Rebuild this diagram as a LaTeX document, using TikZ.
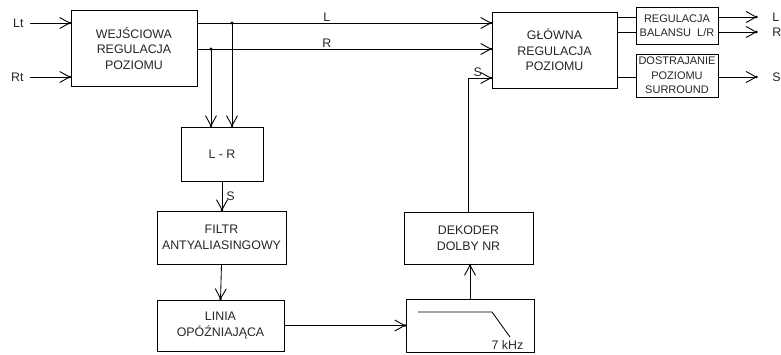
\documentclass[tikz,border=0pt]{standalone}
\usepackage{fontspec}
\setmainfont{Liberation Sans}
\usetikzlibrary{arrows.meta}
\newcommand{\textcol}{black!85!white}
\newcommand{\bigfont}{\fontsize{12.4}{15.5}\selectfont}
\newcommand{\smallfont}{\fontsize{11}{14.5}\selectfont}

\begin{document}
\begin{tikzpicture}[x=1pt, y=-1pt, line width=0.85pt,
    blok/.style={draw, align=center, inner sep=0pt, text=\textcol, font=\bigfont},
    sig/.style={-{Circle[length=2.4pt,sep=-12pt]Straight Barb[length=10pt,width=11pt,line width=0.9pt]}},
    lbl/.style={inner sep=1pt, text=\textcol, font=\bigfont}]
    \useasboundingbox (0,0) rectangle (781,354);

    % blocks
    \node[blok, minimum width=126pt, minimum height=76pt] (wej) at (134,48) {WEJŚCIOWA\\REGULACJA\\POZIOMU};
    \node[blok, minimum width=125pt, minimum height=76pt] (glo) at (554.5,50) {GŁÓWNA\\REGULACJA\\POZIOMU};
    \node[blok, minimum width=82pt, minimum height=37pt, font=\smallfont] (bal) at (677,25.5) {REGULACJA\\BALANSU\ \ L/R};
    \node[blok, minimum width=82pt, minimum height=43pt, font=\smallfont] (sur) at (677,75.5) {DOSTRAJANIE\\POZIOMU\\SURROUND};
    \node[blok, minimum width=82pt, minimum height=54pt] (lr) at (222,154) {L - R};
    \node[blok, minimum width=129pt, minimum height=53pt] (fil) at (221.5,237.5) {FILTR\\ANTYALIASINGOWY};
    \node[blok, minimum width=127pt, minimum height=51pt] (lin) at (220.5,325.5) {LINIA\\OPÓŹNIAJĄCA};
    \node[blok, minimum width=129pt, minimum height=52pt] (dek) at (468.5,238) {DEKODER\\DOLBY NR};
    \node[blok, minimum width=128pt, minimum height=53pt] (lp) at (470,325.5) {};

    % low-pass sketch
    \draw (418,312) -- (492,312) -- (510,337);
    \node[lbl] (khz) at (507.5,345) {7 kHz};

    % inputs
    \node[lbl, anchor=east] (lt) at (25,23) {Lt};
    \node[lbl, anchor=east] (rt) at (25,77) {Rt};
    \draw[sig] ([xshift=5pt]lt.east) -- (lt -| wej.west);
    \draw[sig] ([xshift=5pt]rt.east) -- (rt -| wej.west);

    % L and R buses
    \coordinate (jl) at (232,23);
    \coordinate (jr) at (211,49);
    \draw[sig] (wej.east |- jl) -- node[lbl, above, pos=0.44] {L} (glo.west |- jl);
    \draw[sig] (wej.east |- jr) -- node[lbl, above, pos=0.44] {R} (glo.west |- jr);
    \fill (jl) circle (1.6pt);
    \fill (jr) circle (1.6pt);
    \draw[sig] (jl) -- (jl |- lr.north);
    \draw[sig] (jr) -- (jr |- lr.north);

    % surround path
    \draw[sig] (lr.south) -- node[lbl, right, xshift=3pt] {S} (lr.south |- fil.north);
    \draw[sig] (fil.south) -- (lin.north);
    \draw[sig] (lin.east) -- (lp.west);
    \draw[sig] (lp.north) -- (lp.north |- dek.south);
    \draw[sig] (dek.north) |- node[lbl, above, pos=0.7] {S} ([yshift=-28pt]glo.west);

    % outputs
    \coordinate (outL) at (757,17);
    \coordinate (outR) at (757,32);
    \coordinate (outS) at (757,77);
    \foreach \o/\t in {outL/L, outR/R} {
        \draw (glo.east |- \o) -- (bal.west |- \o);
        \draw[sig] (bal.east |- \o) -- (\o) node[lbl, anchor=west, xshift=14pt] {\t};
    }
    \draw (glo.east |- outS) -- (sur.west |- outS);
    \draw[sig] (sur.east |- outS) -- (outS) node[lbl, anchor=west, xshift=14pt] {S};
\end{tikzpicture}
\end{document}
